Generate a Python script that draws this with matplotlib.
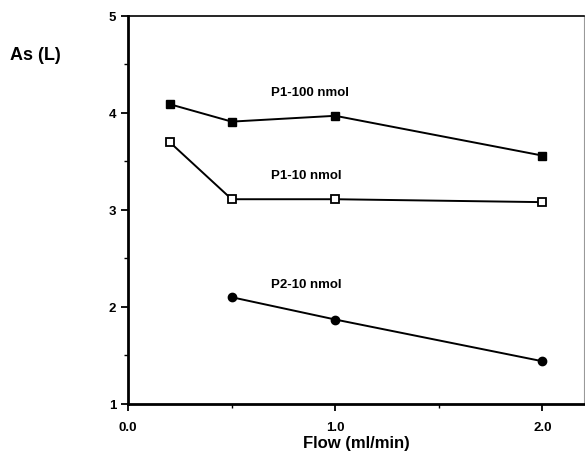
import matplotlib
matplotlib.use('Agg')
import matplotlib.pyplot as plt
from matplotlib.ticker import MultipleLocator

plt.rcParams['font.family'] = ['Liberation Sans', 'DejaVu Sans']

# data
flow_p1 = [0.2, 0.5, 1.0, 2.0]
p1_100 = [4.09, 3.91, 3.97, 3.56]
p1_10 = [3.70, 3.11, 3.11, 3.08]
flow_p2 = [0.5, 1.0, 2.0]
p2_10 = [2.10, 1.87, 1.44]

fig = plt.figure(figsize=(5.85, 4.56), dpi=100)
ax = fig.add_axes([0.219, 0.112, 0.779, 0.851])

ax.plot(flow_p1, p1_100, color='black', lw=1.4, marker='s', ms=5.5,
        mfc='black', mec='black')
ax.plot(flow_p1, p1_10, color='black', lw=1.4, marker='s', ms=5.5,
        mfc='white', mec='black', mew=1.3)
ax.plot(flow_p2, p2_10, color='black', lw=1.4, marker='o', ms=6,
        mfc='black', mec='black')

ax.text(0.69, 4.18, 'P1-100 nmol', fontsize=9.5, fontweight='bold')
ax.text(0.69, 3.33, 'P1-10 nmol', fontsize=9.5, fontweight='bold')
ax.text(0.69, 2.21, 'P2-10 nmol', fontsize=9.5, fontweight='bold')

ax.set_xlim(0, 2.2)
ax.set_ylim(1, 5)
ax.set_xticks([0.0, 1.0, 2.0])
ax.set_xticklabels(['0.0', '1.0', '2.0'])
ax.xaxis.set_minor_locator(MultipleLocator(0.5))
ax.set_yticks([1, 2, 3, 4, 5])
ax.yaxis.set_minor_locator(MultipleLocator(0.5))
ax.tick_params(which='major', length=5, width=1.3, labelsize=9.5)
ax.tick_params(axis='x', which='major', pad=7)
ax.tick_params(which='minor', length=3, width=1.0)
for lab in ax.get_xticklabels() + ax.get_yticklabels():
    lab.set_fontweight('bold')

ax.spines['left'].set_linewidth(2.0)
ax.spines['bottom'].set_linewidth(2.0)
ax.spines['top'].set_linewidth(1.2)
ax.spines['right'].set_linewidth(0.8)
ax.spines['right'].set_color('#999999')

ax.set_xlabel('Flow (ml/min)', fontsize=12, fontweight='bold', labelpad=2)
fig.text(0.017, 0.868, 'As (L)', fontsize=13, fontweight='bold')

fig.savefig('out.png', dpi=100)
